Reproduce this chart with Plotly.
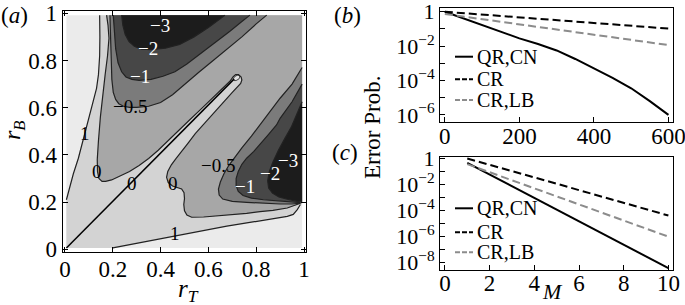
import plotly.graph_objects as go

W, H = 685, 305
FONT = "Liberation Serif"

# ---------------- panel (a): contour lines (rT, rB) ----------------
FILL_MIN, FILL_MAX = 0.006, 0.992

C1_LEFT_X = [0.006, 0.02, 0.035, 0.056, 0.07, 0.084, 0.10, 0.117, 0.132, 0.14, 0.145, 0.146, 0.145]
C1_LEFT_Y = [0.21, 0.265, 0.32, 0.386, 0.44, 0.50, 0.56, 0.62, 0.682, 0.74, 0.82, 0.90, 0.992]

C1_BOT_X = [0.20, 0.30, 0.453, 0.55, 0.677, 0.78, 0.886, 0.93, 0.955, 0.972, 0.985]
C1_BOT_Y = [0.006, 0.025, 0.057, 0.074, 0.098, 0.115, 0.132, 0.14, 0.148, 0.168, 0.19]

C0_X = [0.174, 0.18, 0.184, 0.178, 0.168, 0.158, 0.148, 0.14, 0.135, 0.136, 0.142, 0.155, 0.17, 0.195,
        0.23, 0.27, 0.31, 0.35, 0.39, 0.43, 0.47, 0.52, 0.57, 0.62, 0.66, 0.69, 0.703, 0.714,
        0.726, 0.737, 0.74,
        0.735, 0.70, 0.66, 0.62, 0.58, 0.545, 0.515, 0.49, 0.465, 0.445, 0.43, 0.425, 0.432, 0.45,
        0.47, 0.488, 0.498, 0.50, 0.497, 0.50, 0.51, 0.53, 0.58, 0.676, 0.76, 0.816, 0.87, 0.93, 0.96, 0.985]
C0_Y = [0.992, 0.95, 0.894, 0.82, 0.74, 0.66, 0.56, 0.46, 0.38, 0.33, 0.30, 0.288, 0.288, 0.294,
        0.31, 0.33, 0.355, 0.385, 0.42, 0.46, 0.497, 0.547, 0.595, 0.643, 0.682, 0.712, 0.73, 0.74,
        0.74, 0.73, 0.717,
        0.703, 0.665, 0.62, 0.575, 0.53, 0.49, 0.45, 0.415, 0.385, 0.358, 0.33, 0.305, 0.283, 0.268,
        0.262, 0.256, 0.24, 0.215, 0.19, 0.163, 0.145, 0.136, 0.137, 0.145, 0.152, 0.16, 0.165, 0.175, 0.185, 0.195]

CM05_UP_X = [0.188, 0.191, 0.194, 0.196, 0.202, 0.212, 0.225, 0.245, 0.27, 0.30, 0.35, 0.40, 0.45, 0.50,
             0.56, 0.62, 0.68, 0.74, 0.80, 0.844]
CM05_UP_Y = [0.992, 0.90, 0.80, 0.72, 0.665, 0.635, 0.617, 0.606, 0.601, 0.601, 0.606, 0.622, 0.655, 0.70,
             0.75, 0.80, 0.85, 0.90, 0.955, 0.992]

CM1_UP_X = [0.202, 0.206, 0.212, 0.222, 0.237, 0.255, 0.28, 0.31, 0.36, 0.41, 0.46, 0.51, 0.57, 0.63,
            0.69, 0.74, 0.774]
CM1_UP_Y = [0.992, 0.92, 0.85, 0.79, 0.752, 0.73, 0.72, 0.716, 0.72, 0.733, 0.752, 0.785, 0.83, 0.876,
            0.924, 0.965, 0.992]

CM2_UP_X = [0.237, 0.242, 0.252, 0.268, 0.29, 0.32, 0.36, 0.42, 0.48, 0.54, 0.60, 0.65, 0.669]
CM2_UP_Y = [0.992, 0.95, 0.91, 0.88, 0.86, 0.848, 0.846, 0.852, 0.868, 0.90, 0.94, 0.975, 0.992]

CM05_LO_X = [0.992, 0.95, 0.90, 0.86, 0.82, 0.78, 0.74, 0.71, 0.685, 0.665, 0.65, 0.642, 0.645, 0.66,
             0.70, 0.76, 0.83, 0.90, 0.95, 0.985]
CM05_LO_Y = [0.77, 0.70, 0.64, 0.585, 0.53, 0.48, 0.43, 0.39, 0.355, 0.32, 0.285, 0.255, 0.23, 0.213,
             0.203, 0.199, 0.195, 0.192, 0.192, 0.196]

CM1_LO_X = [0.992, 0.95, 0.90, 0.885, 0.85, 0.82, 0.79, 0.76, 0.74, 0.725, 0.716, 0.716, 0.725, 0.745,
            0.78, 0.83, 0.90, 0.96, 0.985]
CM1_LO_Y = [0.70, 0.625, 0.555, 0.527, 0.485, 0.45, 0.415, 0.386, 0.36, 0.33, 0.30, 0.27, 0.245, 0.228,
            0.217, 0.21, 0.205, 0.20, 0.198]

CM2_LO_X = [0.992, 0.97, 0.948, 0.92, 0.893, 0.87, 0.855, 0.848, 0.852, 0.868, 0.895, 0.93, 0.96, 0.985]
CM2_LO_Y = [0.625, 0.57, 0.52, 0.47, 0.42, 0.37, 0.33, 0.29, 0.26, 0.238, 0.222, 0.212, 0.205, 0.20]

DIAG_X = [0.006, 0.708]
DIAG_Y = [0.006, 0.722]

TIP_X = [0.703, 0.712, 0.724, 0.732, 0.728, 0.716, 0.707]
TIP_Y = [0.722, 0.733, 0.739, 0.731, 0.722, 0.715, 0.715]

LABEL_TEXT = ["−3", "−2", "−1", "−0.5", "1", "0", "0", "0", "−0.5", "−1", "−2", "−3", "1"]
LABEL_X = [0.397, 0.349, 0.314, 0.272, 0.084, 0.133, 0.279, 0.453, 0.641, 0.753, 0.858, 0.934, 0.46]
LABEL_Y = [0.95, 0.852, 0.731, 0.607, 0.49, 0.329, 0.28, 0.28, 0.357, 0.265, 0.322, 0.378, 0.068]
LABEL_WHITE = [True, True, True, False, False, False, False, False, False, True, True, True, False]

# ---------------- panels (b), (c) ----------------
B_X = [0, 100, 200, 250, 300, 350, 400, 450, 500, 550, 600]
B_QR = [1.0, 0.166, 0.0282, 0.0132, 5.6e-3, 1.78e-3, 5.2e-4, 1.41e-4, 3.5e-5, 6.3e-6, 1.0e-6]
B_CR_X = [0, 300, 600]
B_CR = [1.0, 0.33, 0.105]
B_LB = [0.74, 0.093, 0.0115]

C_M = [1, 2, 3, 4, 5, 6, 7, 8, 9, 10]
C_QR = [0.45, 0.056, 7.1e-3, 8.9e-4, 1.1e-4, 1.4e-5, 1.6e-6, 2.0e-7, 2.5e-8, 3.5e-9]
C_CR = [0.95, 0.32, 0.10, 0.033, 0.011, 3.5e-3, 1.1e-3, 3.7e-4, 1.2e-4, 3.9e-5]
C_LB = [0.35, 0.085, 0.020, 4.9e-3, 1.2e-3, 2.8e-4, 6.8e-5, 1.6e-5, 3.9e-6, 9.3e-7]

LOG_TICKS_B = [1, 1e-2, 1e-4, 1e-6]
LOG_TEXT_B = ["1", "10<sup>−2</sup>", "10<sup>−4</sup>", "10<sup>−6</sup>"]
LOG_MINOR_B = [1e-1, 1e-3, 1e-5]
LOG_TICKS_C = [1, 1e-2, 1e-4, 1e-6, 1e-8]
LOG_TEXT_C = ["1", "10<sup>−2</sup>", "10<sup>−4</sup>", "10<sup>−6</sup>", "10<sup>−8</sup>"]
LOG_MINOR_C = [1e-1, 1e-3, 1e-5, 1e-7]

COL_GT1 = "#ebebeb"
COL_0_1 = "#d3d3d3"
COL_M05_0 = "#a7a7a7"
COL_M1_M05 = "#7b7b7b"
COL_M2_M1 = "#474747"
COL_LT_M2 = "#1c1c1c"
COL_TIP = "#e0e0e0"
LINE_COL = "#222222"

fig = go.Figure()


def poly(xs, ys, color):
    fig.add_trace(go.Scatter(x=xs, y=ys, mode="lines", fill="toself", fillcolor=color,
                             line=dict(width=0, color=color), hoverinfo="skip",
                             showlegend=False, xaxis="x", yaxis="y"))


def cline(xs, ys, color=LINE_COL, width=1.2):
    fig.add_trace(go.Scatter(x=xs, y=ys, mode="lines", line=dict(color=color, width=width),
                             hoverinfo="skip", showlegend=False, xaxis="x", yaxis="y"))


# background (> 1)
poly([FILL_MIN, FILL_MAX, FILL_MAX, FILL_MIN], [FILL_MIN, FILL_MIN, FILL_MAX, FILL_MAX], COL_GT1)
# <= 1
poly([FILL_MIN] + C1_LEFT_X + [FILL_MAX, FILL_MAX] + C1_BOT_X[::-1] + [FILL_MIN],
     [FILL_MIN] + C1_LEFT_Y + [FILL_MAX, C1_BOT_Y[-1]] + C1_BOT_Y[::-1] + [FILL_MIN], COL_0_1)
# <= 0
poly(C0_X + [FILL_MAX, FILL_MAX], C0_Y + [C0_Y[-1], FILL_MAX], COL_M05_0)
# <= -0.5, -1, -2 (upper and lower)
poly(CM05_UP_X, CM05_UP_Y, COL_M1_M05)
poly(CM05_LO_X + [FILL_MAX], CM05_LO_Y + [CM05_LO_Y[-1]], COL_M1_M05)
poly(CM1_UP_X, CM1_UP_Y, COL_M2_M1)
poly(CM1_LO_X + [FILL_MAX], CM1_LO_Y + [CM1_LO_Y[-1]], COL_M2_M1)
poly(CM2_UP_X, CM2_UP_Y, COL_LT_M2)
poly(CM2_LO_X + [FILL_MAX], CM2_LO_Y + [CM2_LO_Y[-1]], COL_LT_M2)
poly(TIP_X, TIP_Y, COL_TIP)

for xs, ys in [(C1_LEFT_X, C1_LEFT_Y), (C1_BOT_X, C1_BOT_Y), (C0_X, C0_Y),
               (CM05_UP_X, CM05_UP_Y), (CM1_UP_X, CM1_UP_Y), (CM2_UP_X, CM2_UP_Y),
               (CM05_LO_X, CM05_LO_Y), (CM1_LO_X, CM1_LO_Y), (CM2_LO_X, CM2_LO_Y)]:
    cline(xs, ys)
cline(TIP_X + TIP_X[:1], TIP_Y + TIP_Y[:1], width=0.8)
cline(DIAG_X, DIAG_Y, color="#000000", width=1.5)


# ---------------- panels (b) and (c) traces ----------------
def series(x, y, xa, ya, color, dash):
    fig.add_trace(go.Scatter(x=x, y=y, mode="lines", line=dict(color=color, width=2, dash=dash),
                             showlegend=False, xaxis=xa, yaxis=ya))


series(B_X, B_QR, "x2", "y2", "#000000", "solid")
series(B_CR_X, B_CR, "x2", "y2", "#000000", "8px,4px")
series(B_CR_X, B_LB, "x2", "y2", "#8c8c8c", "8px,4px")
series(C_M, C_QR, "x3", "y3", "#000000", "solid")
series(C_M, C_CR, "x3", "y3", "#000000", "8px,4px")
series(C_M, C_LB, "x3", "y3", "#8c8c8c", "8px,4px")


def px(x):
    return x / W


def py(y):
    return 1 - y / H


tickfont = dict(family=FONT, size=23, color="#000")
tickfont_log = dict(family=FONT, size=22, color="#000")
base = dict(showgrid=False, zeroline=False, showline=True, linecolor="#000", linewidth=1,
            ticks="inside", ticklen=5, tickwidth=1, tickcolor="#000", automargin=False,
            ticklabeloverflow="allow")
minor_common = dict(ticks="inside", ticklen=5, tickwidth=1, tickcolor="#000", showgrid=False)

layout = dict(
    width=W, height=H, margin=dict(l=0, r=0, t=0, b=0),
    paper_bgcolor="white", plot_bgcolor="white", showlegend=False,
    xaxis=dict(domain=[px(62.6), px(306.4)], range=[-0.01, 1.01], anchor="y",
               tickvals=[0, 0.2, 0.4, 0.6, 0.8, 1], ticktext=["0", "0.2", "0.4", "0.6", "0.8", "1"],
               mirror="ticks", ticklabelstandoff=-3, tickfont=tickfont, **base),
    yaxis=dict(domain=[py(251.7), py(10.9)], range=[-0.01, 1.01], anchor="x",
               tickvals=[0, 0.2, 0.4, 0.6, 0.8, 1], ticktext=["0", "0.2", "0.4", "0.6", "0.8", "1"],
               mirror="ticks", tickfont=tickfont, **base),
    xaxis2=dict(domain=[px(440), px(673.3)], range=[-13, 613], anchor="y2",
                tickvals=[0, 200, 400, 600], ticktext=["0", "200", "400", "600"],
                mirror=True, ticklabelstandoff=-6, tickfont=tickfont, **base),
    yaxis2=dict(domain=[py(121.7), py(8.3)], type="log", range=[-6.4, 0.2], anchor="x2",
                tickvals=LOG_TICKS_B, ticktext=LOG_TEXT_B, mirror=True, tickfont=tickfont_log,
                minor=dict(tickvals=LOG_MINOR_B, **minor_common), **base),
    xaxis3=dict(domain=[px(440), px(673.3)], range=[-0.22, 10.22], anchor="y3",
                tickvals=[0, 2, 4, 6, 8, 10], ticktext=["0", "2", "4", "6", "8", "10"],
                mirror=True, ticklabelstandoff=-8, tickfont=tickfont, **base),
    yaxis3=dict(domain=[py(270), py(156.7)], type="log", range=[-8.6, 0.12], anchor="x3",
                tickvals=LOG_TICKS_C, ticktext=LOG_TEXT_C, mirror=True, tickfont=tickfont_log,
                minor=dict(tickvals=LOG_MINOR_C, **minor_common), **base),
)
fig.update_layout(**layout)

ann = []
for t, x, y, w in zip(LABEL_TEXT, LABEL_X, LABEL_Y, LABEL_WHITE):
    ann.append(dict(text=t, x=x, y=y, xref="x", yref="y", showarrow=False,
                    xanchor="center", yanchor="middle",
                    font=dict(family=FONT, size=19, color="#ffffff" if w else "#000000")))


def ptext(t, x, y, size=23, angle=0, xanchor="center"):
    ann.append(dict(text=t, x=px(x), y=py(y), xref="paper", yref="paper", showarrow=False,
                    xanchor=xanchor, yanchor="middle", textangle=angle,
                    font=dict(family=FONT, size=size, color="#000")))


ptext("(<i>a</i>)", 14, 15)
ptext("(<i>b</i>)", 347, 15)
ptext("(<i>c</i>)", 345, 152)
ptext("<i>r</i><sub><i>T</i></sub>", 188, 290, size=25)
ptext("<i>r</i><sub><i>B</i></sub>", 14, 130, size=24, angle=-90)
ptext("Error Prob.", 372, 128, size=23, angle=-90)
ptext("<i>M</i>", 552, 291, size=22)

shapes = []
LEG_NAMES = ["QR,CN", "CR", "CR,LB"]
LEG_COLORS = ["#000000", "#000000", "#8c8c8c"]
LEG_DASH = ["solid", "5px,2px", "5px,2px"]
for rows in ([56.7, 79.3, 100.0], [208.3, 232.3, 252.3]):
    for name, col, dash, ry in zip(LEG_NAMES, LEG_COLORS, LEG_DASH, rows):
        shapes.append(dict(type="line", xref="paper", yref="paper", x0=px(455), x1=px(473),
                           y0=py(ry), y1=py(ry), line=dict(color=col, width=2, dash=dash)))
        ptext(name, 475, ry, size=20, xanchor="left")

fig.update_layout(annotations=ann, shapes=shapes)
fig.write_html("out.html", config={"displayModeBar": False},
               post_script="document.body.style.margin='0px';")
